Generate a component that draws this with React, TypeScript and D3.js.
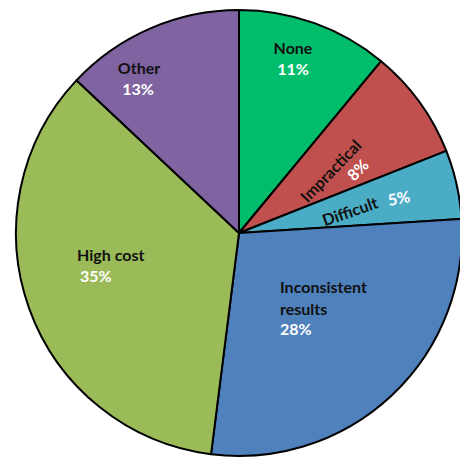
import React from "react";
import * as d3 from "d3";

const categories = ["None", "Impractical", "Difficult", "Inconsistent results", "High cost", "Other"];
const nameLines = [["None"], ["Impractical"], ["Difficult"], ["Inconsistent", "results"], ["High cost"], ["Other"]];
const values = [11, 8, 5, 28, 35, 13];
const colors = ["#00BD6C", "#C0504D", "#4BACC6", "#4F81BD", "#9BBB59", "#8064A2"];

// label layout relative to the pie centre
const nameLayout = [
  { dx: 54, dy: -179, rot: 0, anchor: "middle" },
  { dx: 96, dy: -58, rot: -46, anchor: "middle" },
  { dx: 113, dy: -16, rot: -19, anchor: "middle" },
  { dx: 41, dy: 60, rot: 0, anchor: "start" },
  { dx: -162, dy: 28, rot: 0, anchor: "start" },
  { dx: -100, dy: -159, rot: 0, anchor: "middle" },
];
const pctLayout = [
  { dx: 54, dy: -158, rot: 0, anchor: "middle" },
  { dx: 123, dy: -59, rot: -46, anchor: "middle" },
  { dx: 161, dy: -29, rot: -10, anchor: "middle" },
  { dx: 41, dy: 102, rot: 0, anchor: "start" },
  { dx: -159, dy: 49, rot: 0, anchor: "start" },
  { dx: -101, dy: -138, rot: 0, anchor: "middle" },
];

export default function App() {
  const width = 460;
  const height = 458;
  const cx = 239;
  const cy = 233;
  const r = 223;
  const pie = d3.pie<number>().sort(null).value((d) => d)(values);
  const arc = d3.arc<d3.PieArcDatum<number>>().innerRadius(0).outerRadius(r);
  const font = "Lato, 'Open Sans', sans-serif";
  const fs = 16;
  const lh = 22;
  return (
    <svg width={width} height={height} style={{ position: "absolute", left: 0, top: 0, background: "#fff" }}>
      <g transform={`translate(${cx},${cy})`}>
        {pie.map((p, i) => (
          <path key={i} d={arc(p) || ""} fill={colors[i]} stroke="#000" strokeWidth={2} strokeLinejoin="round" />
        ))}
        {pie.map((p, i) => {
          const N = nameLayout[i];
          const P = pctLayout[i];
          return (
            <g key={"l" + i} fontFamily={font} fontWeight={700} fontSize={fs}>
              <g transform={`translate(${N.dx},${N.dy}) rotate(${N.rot})`}>
                {nameLines[i].map((t, j) => (
                  <text key={j} x={0} y={j * lh} textAnchor={N.anchor} fill="#111">{t}</text>
                ))}
              </g>
              <text transform={`translate(${P.dx},${P.dy}) rotate(${P.rot})`} textAnchor={P.anchor} fill="#fff">
                {`${values[i]}%`}
              </text>
            </g>
          );
        })}
      </g>
    </svg>
  );
}
